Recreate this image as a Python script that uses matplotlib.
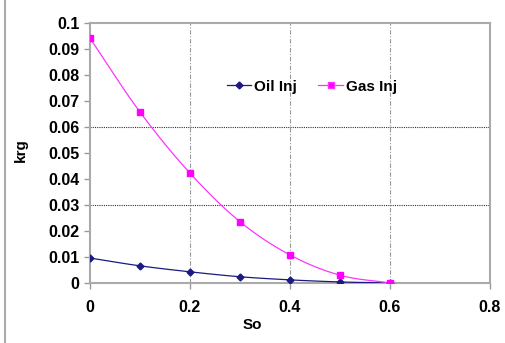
import numpy as np
import matplotlib.pyplot as plt
from matplotlib.lines import Line2D

plt.rcParams['font.family'] = ['Liberation Sans', 'DejaVu Sans']
plt.rcParams['font.weight'] = 'bold'

so = [0, 0.1, 0.2, 0.3, 0.4, 0.5, 0.6]
krg_oil = [0.0096, 0.0066, 0.0043, 0.0024, 0.0012, 0.0004, 0.0]
krg_gas = [0.0942, 0.0658, 0.0423, 0.0236, 0.0108, 0.003, 0.0]


def smooth(x, y, n=20):
    # Catmull-Rom curve through the points (like Excel smoothed lines)
    x = np.asarray(x, float)
    y = np.asarray(y, float)
    px = np.concatenate([[2 * x[0] - x[1]], x, [2 * x[-1] - x[-2]]])
    py = np.concatenate([[2 * y[0] - y[1]], y, [2 * y[-1] - y[-2]]])
    t = np.linspace(0, 1, n)
    xs, ys = [], []
    for i in range(1, len(px) - 2):
        for p, out in ((px, xs), (py, ys)):
            p0, p1, p2, p3 = p[i - 1], p[i], p[i + 1], p[i + 2]
            out.append(0.5 * (2 * p1 + (-p0 + p2) * t
                              + (2 * p0 - 5 * p1 + 4 * p2 - p3) * t ** 2
                              + (-p0 + 3 * p1 - 3 * p2 + p3) * t ** 3))
    return np.concatenate(xs), np.concatenate(ys)


fig = plt.figure(figsize=(5.05, 3.43), dpi=100)
ax = fig.add_axes([0.178, 0.175, 0.792, 0.758])

# grid: vertical dash-dot gray, horizontal only at 0.03 and 0.06
for xv in [0.2, 0.4, 0.6]:
    ax.axvline(xv, color='#999999', lw=0.8, ls=(0, (4, 1.5, 1, 1.5)), zorder=1)
for yv in [0.03, 0.06]:
    ax.axhline(yv, color='#333333', lw=0.8, ls=(0, (1, 1)), zorder=1)

sx, sy = smooth(so, krg_oil)
ax.plot(sx, sy, color='#1a1a80', lw=0.9, zorder=3)
ax.plot(so, krg_oil, 'D', color='#1a1a80', ms=3.5, zorder=4)
gx, gy = smooth(so, krg_gas)
ax.plot(gx, gy, color='#ff33ff', lw=0.9, zorder=3)
ax.plot(so, krg_gas, 's', color='#ff00ff', ms=5, zorder=4)

ax.set_xlim(0, 0.8)
ax.set_ylim(0, 0.1)
ax.set_xticks([0, 0.2, 0.4, 0.6, 0.8])
ax.set_xticklabels(['0', '0.2', '0.4', '0.6', '0.8'])
ax.set_yticks(np.arange(0, 0.101, 0.01))
ax.set_yticklabels(['0', '0.01', '0.02', '0.03', '0.04', '0.05', '0.06',
                    '0.07', '0.08', '0.09', '0.1'])
ax.tick_params(labelsize=11.5, color='#999999', length=4, width=1)
ax.tick_params(axis='x', pad=8)
for s in ax.spines.values():
    s.set_color('#aaaaaa')
    s.set_linewidth(1.5)

ax.set_xlabel('So', fontsize=11, fontweight='bold')
ax.xaxis.set_label_coords(0.405, -0.135)
ax.set_ylabel('krg', fontsize=11, fontweight='bold')
ax.yaxis.set_label_coords(-0.155, 0.51)

handles = [Line2D([], [], color='#1a1a80', marker='D', ms=3.5, lw=0.9),
           Line2D([], [], color='#ff33ff', marker='s', markerfacecolor='#ff00ff', ms=5, lw=0.9)]
ax.legend(handles, ['Oil Inj', 'Gas Inj'], ncol=2, frameon=False, fontsize=11,
          loc='center', bbox_to_anchor=(0.555, 0.755), handlelength=1.6,
          handletextpad=0.2, columnspacing=1.4)

# thin gray border line at the left of the picture
fig.add_artist(Line2D([0.01, 0.01], [0, 1], color='#aaaaaa', lw=1.5))

fig.savefig('out.png', dpi=100)
